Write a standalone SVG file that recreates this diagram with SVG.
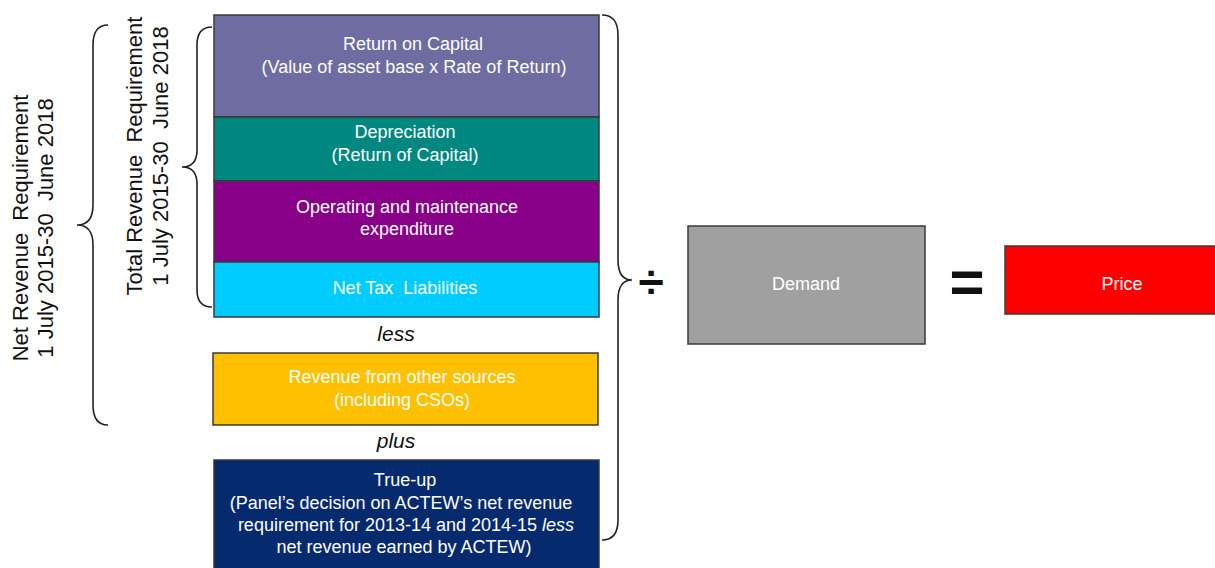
<svg xmlns="http://www.w3.org/2000/svg" width="1215" height="568" viewBox="0 0 1215 568">
<style>
text{font-family:"Liberation Sans",Arial,sans-serif;white-space:pre}
.bt{fill:#fff;font-size:18px;text-anchor:middle}
.lt{fill:#111;font-size:22px;text-anchor:middle}
.op{fill:#111;font-size:21px;font-style:italic;text-anchor:middle}
.box{stroke:#3a3a3a;stroke-width:1.5}
.brace{fill:none;stroke:#222;stroke-width:1.6}
.sym{fill:#111;font-weight:bold;text-anchor:middle}
</style>
<rect width="1215" height="568" fill="#fff"/>
<g id="connectors">
<path class="brace" d="M108,25 Q93,25 93,45 L93,205 Q93,225 77,225 Q93,225 93,245 L93,405 Q93,425 108,425"/>
<path class="brace" d="M212,27 Q197,27 197,45 L197,150 Q197,167 182,167 Q197,167 197,184 L197,290 Q197,307 212,307"/>
<path class="brace" d="M602,15 Q618,15 618,35 L618,260 Q618,280 632,280 Q618,280 618,300 L618,520 Q618,540 602,540"/>
</g>
<g id="label-net">
<text class="lt" transform="translate(28,228) rotate(-90)">Net Revenue  Requirement</text>
<text class="lt" transform="translate(53,228) rotate(-90)">1 July 2015-30  June 2018</text>
</g>
<g id="label-total">
<text class="lt" transform="translate(142,156) rotate(-90)">Total Revenue  Requirement</text>
<text class="lt" transform="translate(168,156) rotate(-90)">1 July 2015-30  June 2018</text>
</g>
<g id="return-on-capital">
<rect class="box" x="214" y="15" width="385" height="102" fill="#6E6CA0"/>
<text class="bt" x="413" y="50">Return on Capital</text>
<text class="bt" x="414" y="73">(Value of asset base x Rate of Return)</text>
</g>
<g id="depreciation">
<rect class="box" x="214" y="117" width="385" height="64" fill="#00877F"/>
<text class="bt" x="405" y="138">Depreciation</text>
<text class="bt" x="405" y="161">(Return of Capital)</text>
</g>
<g id="operating">
<rect class="box" x="214" y="181" width="385" height="81" fill="#880088"/>
<text class="bt" x="407" y="213">Operating and maintenance</text>
<text class="bt" x="407" y="235">expenditure</text>
</g>
<g id="net-tax">
<rect class="box" x="214" y="262" width="385" height="55" fill="#00CCFF"/>
<text class="bt" x="405" y="294">Net Tax  Liabilities</text>
</g>
<g id="less"><text class="op" x="396" y="341">less</text></g>
<g id="revenue-other">
<rect class="box" x="213" y="353" width="385" height="72" fill="#FFC000"/>
<text class="bt" x="402" y="383">Revenue from other sources</text>
<text class="bt" x="402" y="406">(including CSOs)</text>
</g>
<g id="plus"><text class="op" x="396" y="448">plus</text></g>
<g id="true-up">
<rect class="box" x="214" y="460" width="385" height="115" fill="#062A6E"/>
<text class="bt" x="405" y="486">True-up</text>
<text class="bt" x="401" y="509">(Panel’s decision on ACTEW’s net revenue</text>
<text class="bt" x="406" y="531">requirement for 2013-14 and 2014-15 <tspan font-style="italic">less</tspan></text>
<text class="bt" x="404" y="553">net revenue earned by ACTEW)</text>
</g>
<g id="divide"><text class="sym" x="651" y="298" font-size="46">÷</text></g>
<g id="demand">
<rect class="box" x="688" y="226" width="237" height="118" fill="#A0A0A0" stroke="#555"/>
<text class="bt" x="806" y="290" font-size="20">Demand</text>
</g>
<g id="equals"><text class="sym" x="967" y="302" font-size="60">=</text></g>
<g id="price">
<rect class="box" x="1005" y="246" width="212" height="68" fill="#FF0000" stroke="#7a2020"/>
<text class="bt" x="1122" y="290" font-size="20">Price</text>
</g>
</svg>
